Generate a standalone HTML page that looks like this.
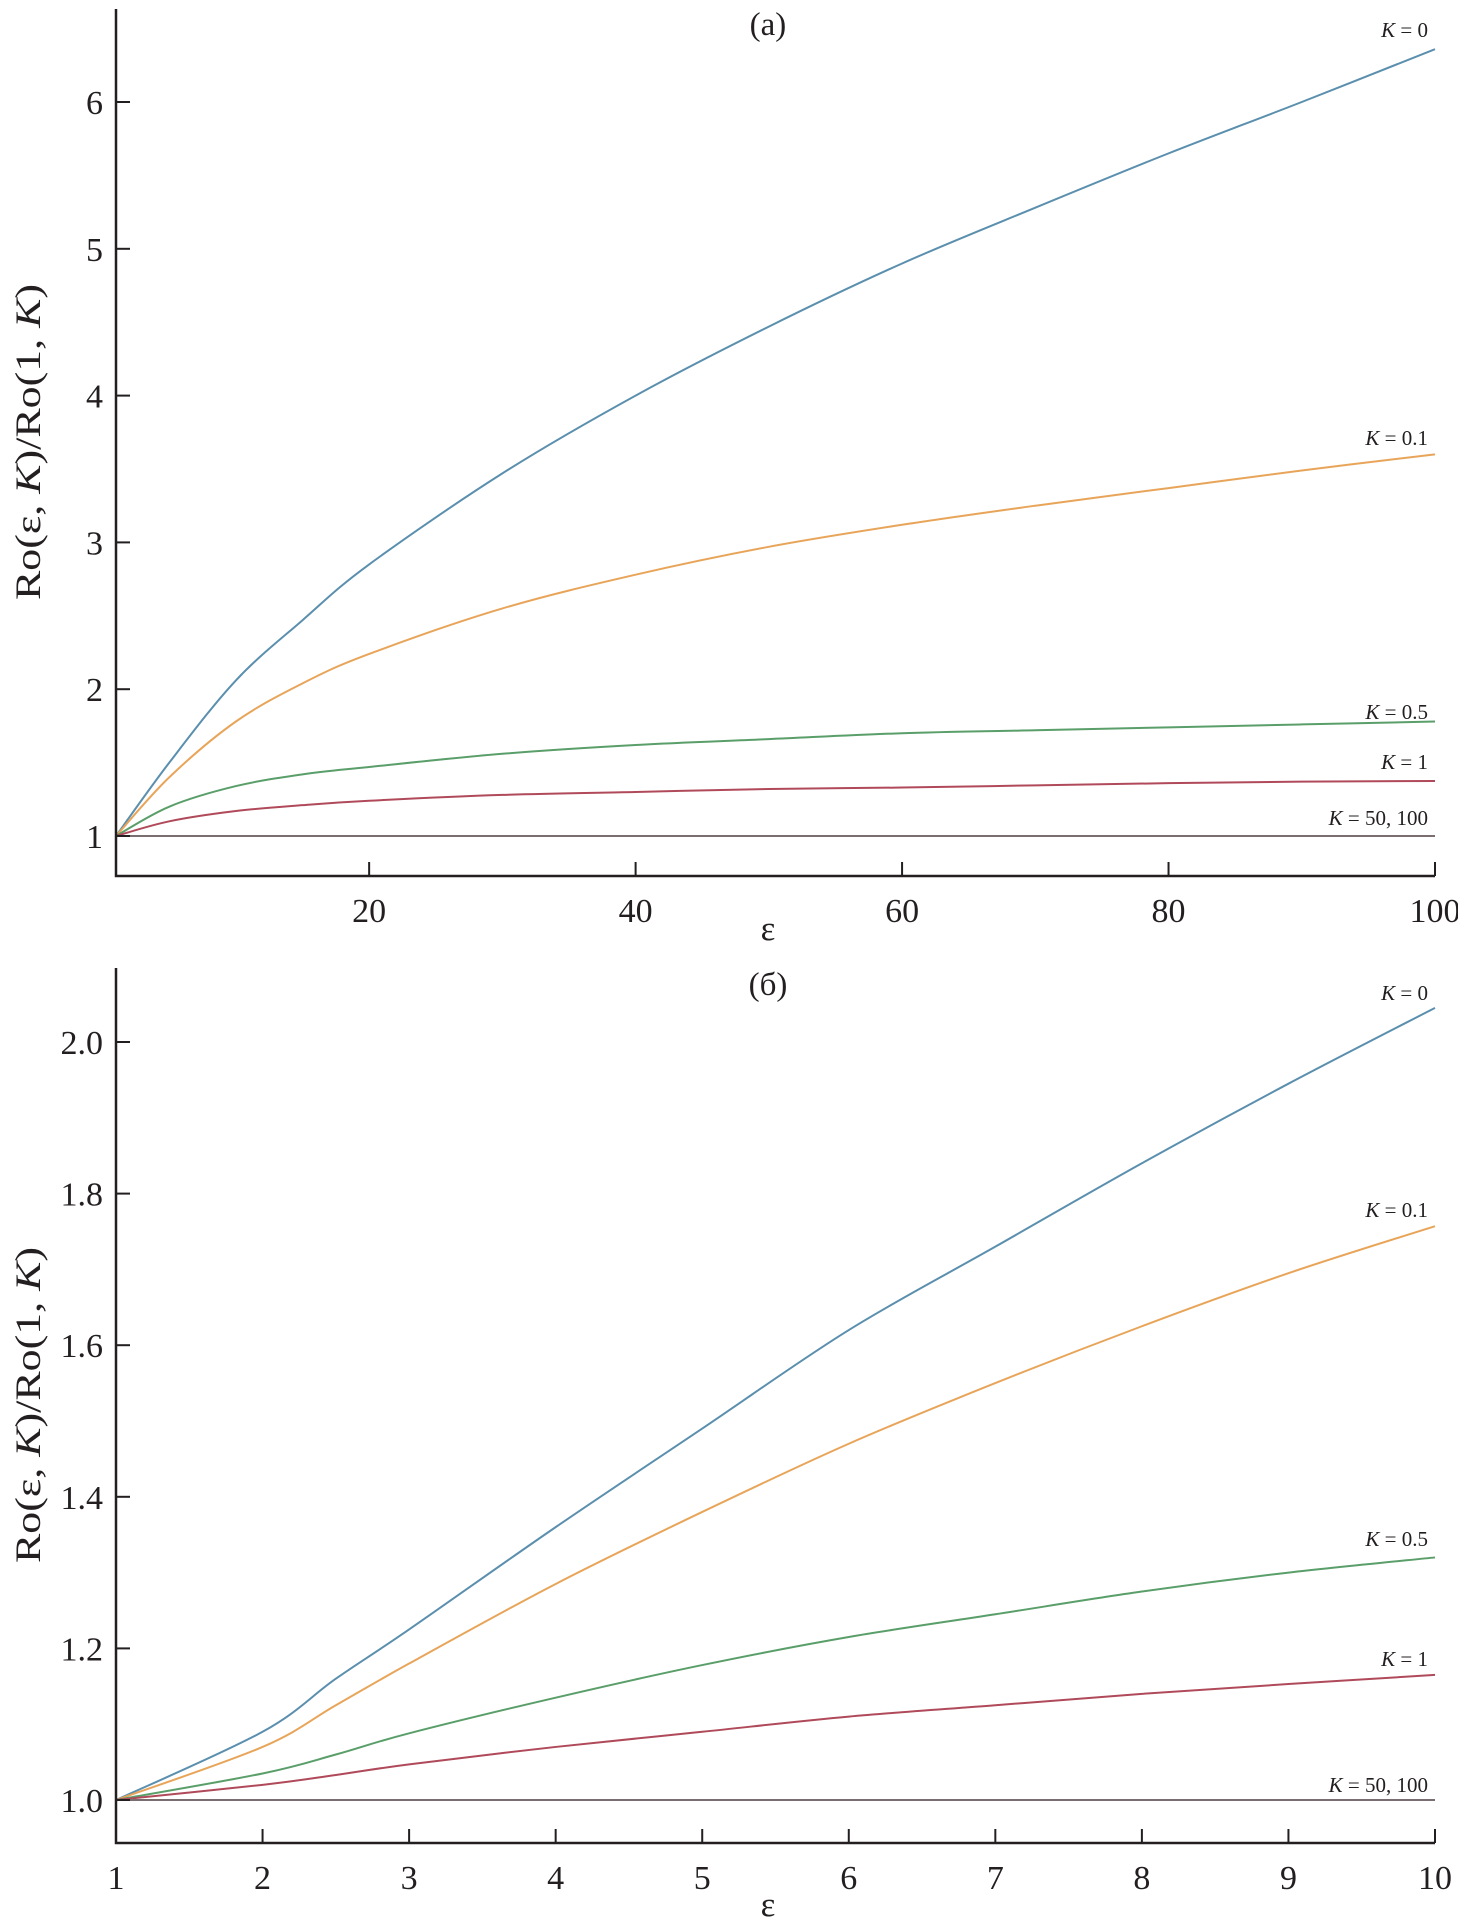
<!DOCTYPE html>
<html><head><meta charset="utf-8"><style>
body{margin:0;background:#fff}
svg{display:block}
text{font-family:"Liberation Serif",serif;fill:#231f20}
</style></head><body>
<svg id="chart" width="1458" height="1922" viewBox="0 0 1458 1922" xmlns="http://www.w3.org/2000/svg"></svg>
<script>
// Panel (a) data
const aX = [1,5,10,15,20,30,40,50,60,70,80,90,100];
const aK0 = [1,1.5,2.06,2.47,2.85,3.47,4.0,4.47,4.9,5.28,5.65,6.0,6.36];
const aK01 = [1,1.4,1.78,2.04,2.24,2.55,2.78,2.97,3.12,3.25,3.37,3.49,3.6];
const aK05 = [1,1.2,1.34,1.42,1.47,1.56,1.62,1.66,1.70,1.72,1.74,1.76,1.78];
const aK1 = [1,1.1,1.17,1.21,1.24,1.28,1.30,1.32,1.33,1.345,1.36,1.37,1.375];
const aK50 = [1,1,1,1,1,1,1,1,1,1,1,1,1];
const aXTicks = [20,40,60,80,100];
const aYTicks = [1,2,3,4,5,6];
// Panel (b) data
const bX = [1,2,2.5,3,4,5,6,7,8,9,10];
const bK0 = [1,1.09,1.16,1.225,1.36,1.49,1.62,1.73,1.84,1.945,2.045];
const bK01 = [1,1.07,1.125,1.18,1.285,1.38,1.47,1.55,1.625,1.695,1.757];
const bK05 = [1,1.035,1.06,1.088,1.135,1.178,1.215,1.245,1.275,1.3,1.32];
const bK1 = [1,1.02,1.033,1.047,1.07,1.09,1.11,1.125,1.14,1.153,1.165];
const bK50 = [1,1,1,1,1,1,1,1,1,1,1];
const bXTicks = [1,2,3,4,5,6,7,8,9,10];
const bYTicks = ["1.0","1.2","1.4","1.6","1.8","2.0"];
const seriesLabels = ["K0","K01","K05","K1","K50"];
const labelText = ["0","0.1","0.5","1","50, 100"];
const colors = ["#5b8fae","#e8a55a","#5a9e6a","#b04a5a","#7a6e70"];

const svg = document.getElementById('chart');
const NS = "http://www.w3.org/2000/svg";
function mk(tag, attrs, parent){const e=document.createElementNS(NS,tag);for(const k in attrs)e.setAttribute(k,attrs[k]);(parent||svg).appendChild(e);return e;}
function smooth(pts){
  let d='M'+pts[0][0].toFixed(2)+','+pts[0][1].toFixed(2);
  for(let i=0;i<pts.length-1;i++){
    const p0=pts[Math.max(0,i-1)],p1=pts[i],p2=pts[i+1],p3=pts[Math.min(pts.length-1,i+2)];
    const c1=[p1[0]+(p2[0]-p0[0])/6,p1[1]+(p2[1]-p0[1])/6];
    const c2=[p2[0]-(p3[0]-p1[0])/6,p2[1]-(p3[1]-p1[1])/6];
    d+=` C${c1[0].toFixed(2)},${c1[1].toFixed(2)} ${c2[0].toFixed(2)},${c2[1].toFixed(2)} ${p2[0].toFixed(2)},${p2[1].toFixed(2)}`;
  }
  return d;
}

function panel(cfg){
  const g = mk('g',{});
  
  
  const xs = v => cfg.x0 + (v-cfg.xmin)/(cfg.xmax-cfg.xmin)*(cfg.x1-cfg.x0);
  const ys = v => cfg.yA + (v-cfg.vA)/(cfg.vB-cfg.vA)*(cfg.yB-cfg.yA);
  cfg.series.forEach((s,i)=>{
    const pts = cfg.xv.map((x,j)=>[xs(x),ys(s[j])]);
    const p = mk('path',{d:smooth(pts), fill:'none', stroke:colors[i], 'stroke-width':2}, g);
    
    
    const t = mk('text',{x:1428, y:cfg.labelY[i], 'text-anchor':'end', 'font-size':21}, g);
    
    
    const it = mk('tspan',{'font-style':'italic'}, t); it.textContent='K';
    const r = mk('tspan',{}, t); r.textContent=' = '+labelText[i];
  });
  const ax = mk('path',{d:`M${cfg.x0},${cfg.top} L${cfg.x0},${cfg.bottom} L${cfg.x1},${cfg.bottom}`, fill:'none', stroke:'#231f20','stroke-width':2.5}, g);
  
  
  cfg.xt.forEach(v=>{
    const x = xs(v);
    const tk = mk('line',{x1:x,x2:x,y1:cfg.bottom,y2:cfg.bottom-14,stroke:'#231f20','stroke-width':2},g);
    
    
    const t = mk('text',{x, y:cfg.bottom+46,'text-anchor':'middle','font-size':34},g);
    
    
    t.textContent = v;
  });
  cfg.yt.forEach(v=>{
    const y = ys(parseFloat(v));
    const tk = mk('line',{x1:cfg.x0,x2:cfg.x0+14,y1:y,y2:y,stroke:'#231f20','stroke-width':2},g);
    
    
    const t = mk('text',{x:cfg.x0-13, y:y+12,'text-anchor':'end','font-size':34},g);
    
    
    t.textContent = v;
  });
  const tt = mk('text',{x:768,y:cfg.titleY,'text-anchor':'middle','font-size':33},g);
  
  
  tt.textContent = cfg.title;
  const xt = mk('text',{x:768,y:cfg.xTitleY,'text-anchor':'middle','font-size':35},g);
  
  
  xt.textContent = 'ε';
  const yt = mk('text',{transform:`translate(40,${cfg.yTitleY}) rotate(-90)`,'text-anchor':'middle','font-size':36,textLength:316,lengthAdjust:'spacingAndGlyphs'},g);
  
  
  const parts=[['Ro(ε, ',0],['K',1],[')/Ro(1, ',0],['K',1],[')',0]];
  parts.forEach(([s,it])=>{const sp=mk('tspan',it?{'font-style':'italic'}:{},yt);sp.textContent=s;});
}

panel({name:'panel-a', x0:116, x1:1435, xmin:1, xmax:100, top:9, bottom:876,
  yA:836, vA:1, yB:102, vB:6, xv:aX, series:[aK0,aK01,aK05,aK1,aK50],
  xt:aXTicks, yt:aYTicks.map(String), labelY:[37,445,719,769,825], title:'(a)', titleY:35, xTitleY:940, yTitleY:442});
panel({name:'panel-b', x0:116, x1:1435, xmin:1, xmax:10, top:968, bottom:1843,
  yA:1800, vA:1.0, yB:1042, vB:2.0, xv:bX, series:[bK0,bK01,bK05,bK1,bK50],
  xt:bXTicks, yt:bYTicks, labelY:[1000,1217,1546,1666,1792], title:'(б)', titleY:995, xTitleY:1916, yTitleY:1405});
</script>
</body></html>
